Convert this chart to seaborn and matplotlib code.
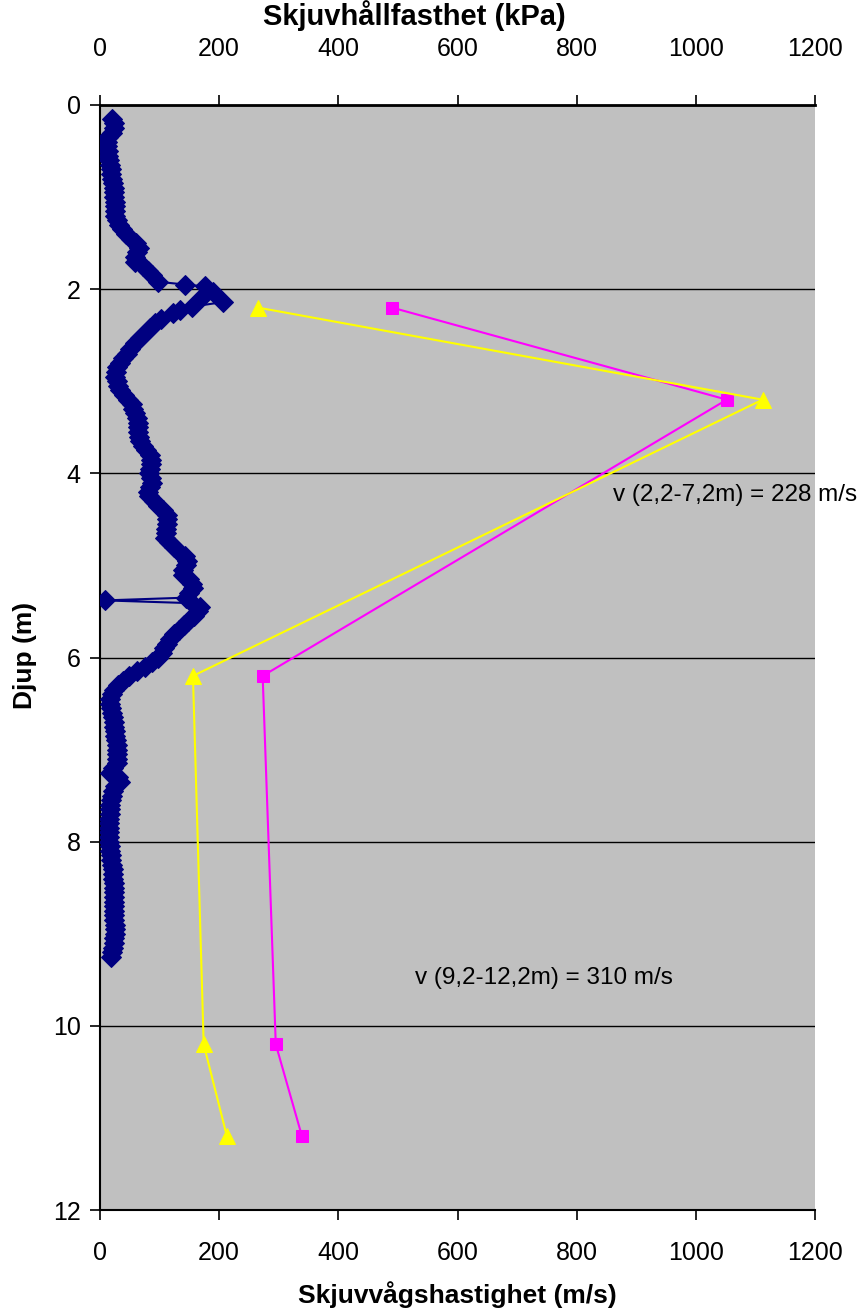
import matplotlib
matplotlib.use("Agg")
import matplotlib.pyplot as plt
import seaborn as sns

# Shear strength profile (kPa) against depth (m)
depth_su = [
    0.15, 0.20, 0.25, 0.30, 0.35, 0.40, 0.45, 0.50, 0.55, 0.60,
    0.65, 0.70, 0.75, 0.80, 0.85, 0.90, 0.95, 1.00, 1.05, 1.10,
    1.15, 1.20, 1.25, 1.30, 1.35, 1.40, 1.45, 1.50, 1.55, 1.60,
    1.65, 1.70, 1.75, 1.80, 1.85, 1.92, 1.95, 1.97, 2.03, 2.08,
    2.14, 2.19, 2.23, 2.26, 2.32, 2.37, 2.42, 2.48, 2.53, 2.59,
    2.65, 2.70, 2.75, 2.80, 2.85, 2.90, 2.95, 3.00, 3.05, 3.10,
    3.15, 3.20, 3.25, 3.30, 3.35, 3.40, 3.45, 3.50, 3.55, 3.60,
    3.65, 3.70, 3.75, 3.80, 3.85, 3.90, 3.95, 4.00, 4.05, 4.10,
    4.15, 4.20, 4.25, 4.30, 4.35, 4.40, 4.45, 4.50, 4.55, 4.60,
    4.65, 4.70, 4.75, 4.80, 4.85, 4.90, 4.95, 5.00, 5.05, 5.10,
    5.15, 5.20, 5.25, 5.30, 5.35, 5.38, 5.41, 5.45, 5.50, 5.55,
    5.60, 5.65, 5.70, 5.75, 5.80, 5.85, 5.90, 5.95, 6.00, 6.05,
    6.10, 6.15, 6.20, 6.25, 6.30, 6.35, 6.40, 6.45, 6.50, 6.55,
    6.60, 6.65, 6.70, 6.75, 6.80, 6.85, 6.90, 6.95, 7.00, 7.05,
    7.10, 7.15, 7.20, 7.25, 7.30, 7.35, 7.40, 7.45, 7.50, 7.55,
    7.60, 7.65, 7.70, 7.75, 7.80, 7.85, 7.90, 7.95, 8.00, 8.05,
    8.10, 8.15, 8.20, 8.25, 8.30, 8.35, 8.40, 8.45, 8.50, 8.55,
    8.60, 8.65, 8.70, 8.75, 8.80, 8.85, 8.90, 8.95, 9.00, 9.05,
    9.10, 9.15, 9.20, 9.25,
]
su_kpa = [
    20, 24, 24, 20, 14, 11, 11, 13, 14, 15,
    17, 18, 19, 20, 22, 23, 24, 24, 25, 25,
    26, 26, 28, 32, 37, 43, 52, 60, 66, 62,
    58, 58, 72, 80, 88, 98, 143, 176, 190, 171,
    207, 154, 134, 123, 103, 92, 84, 76, 67, 59,
    50, 45, 39, 33, 28, 27, 26, 28, 30, 34,
    40, 47, 53, 56, 59, 62, 63, 63, 64, 65,
    67, 72, 78, 84, 85, 86, 84, 83, 85, 87,
    84, 80, 82, 90, 97, 106, 112, 113, 112, 111,
    110, 109, 115, 124, 133, 142, 146, 145, 140, 140,
    150, 155, 156, 150, 145, 8, 154, 168, 165, 158,
    148, 141, 133, 125, 118, 113, 108, 104, 98, 88,
    76, 62, 48, 38, 30, 24, 20, 17, 17, 18,
    20, 22, 23, 24, 25, 26, 27, 28, 28, 28,
    28, 28, 22, 17, 30, 33, 26, 22, 20, 18,
    17, 16, 16, 15, 15, 15, 15, 15, 15, 16,
    17, 18, 19, 20, 21, 22, 22, 23, 23, 24,
    24, 24, 24, 23, 24, 24, 25, 25, 25, 24,
    24, 22, 20, 19,
]

# Shear wave velocities (m/s) from two interpretations
depth_vs = [2.2, 3.2, 6.2, 10.2, 11.2]
vs_square = [490, 1052, 273, 295, 339]
vs_triangle = [265, 1112, 156, 174, 213]

x_ticks = [0, 200, 400, 600, 800, 1000, 1200]
y_ticks = [0, 2, 4, 6, 8, 10, 12]

sns.set_style("white", {"axes.facecolor": "#C0C0C0"})
plt.rcParams["font.family"] = ["Liberation Sans", "DejaVu Sans"]
plt.rcParams["text.color"] = "black"
plt.rcParams["xtick.color"] = "black"
plt.rcParams["ytick.color"] = "black"

W, H = 861, 1312
fig = plt.figure(figsize=(W / 100, H / 100), dpi=100)
fig.patch.set_facecolor("white")
ax = fig.add_axes([100 / W, 1 - 1210 / H, 715 / W, 1105 / H])
ax2 = ax.twiny()

sns.lineplot(x=vs_square, y=depth_vs, sort=False, estimator=None, ax=ax,
             color="#FF00FF", marker="s", markersize=9, linewidth=1.5,
             markeredgecolor="#FF00FF")
sns.lineplot(x=vs_triangle, y=depth_vs, sort=False, estimator=None, ax=ax,
             color="#FFFF00", marker="^", markersize=11, linewidth=1.5,
             markeredgecolor="#FFFF00")
sns.lineplot(x=su_kpa, y=depth_su, sort=False, estimator=None, ax=ax2,
             color="#000080", marker="D", markersize=10, linewidth=1.5,
             markeredgecolor="#000080")

for a in (ax, ax2):
    a.set_xlim(0, 1200)
    a.set_xticks(x_ticks)
    a.set_xlabel("")
    a.set_ylabel("")
ax.set_ylim(12, 0)
ax.set_yticks(y_ticks)

ax.set_axisbelow(True)
ax.yaxis.grid(True, color="black", linewidth=1)
ax.xaxis.grid(False)
ax2.grid(False)

ax.tick_params(axis="x", bottom=True, top=False, direction="out", length=7,
               width=1.2, labelsize=18, pad=15)
ax.tick_params(axis="y", left=True, direction="out", length=7, width=1.2,
               labelsize=18, pad=7)
ax2.tick_params(axis="x", top=True, bottom=False, direction="out", length=7,
                width=1.2, labelsize=18, pad=25)

for name, sp in ax.spines.items():
    sp.set_color("black")
    sp.set_linewidth(1.5)
ax.spines["right"].set_visible(False)
ax.spines["top"].set_visible(False)
for name, sp in ax2.spines.items():
    sp.set_visible(name == "top")
    sp.set_color("black")
    sp.set_linewidth(2)

ax.text(861, 4.23, "v (2,2-7,2m) = 228 m/s", fontsize=17.5, ha="left",
        va="center", clip_on=False)
ax.text(528, 9.48, "v (9,2-12,2m) = 310 m/s", fontsize=17.5, ha="left",
        va="center", clip_on=False)

fig.text(414 / W, 1 - 16 / H, "Skjuvhållfasthet (kPa)", fontsize=21,
         fontweight="bold", ha="center", va="center")
fig.text(457 / W, 1 - 1295 / H, "Skjuvvågshastighet (m/s)", fontsize=19,
         fontweight="bold", ha="center", va="center")
fig.text(25 / W, 1 - 655 / H, "Djup (m)", fontsize=19, fontweight="bold",
         rotation=90, ha="center", va="center")

fig.savefig("out.png", dpi=100)
